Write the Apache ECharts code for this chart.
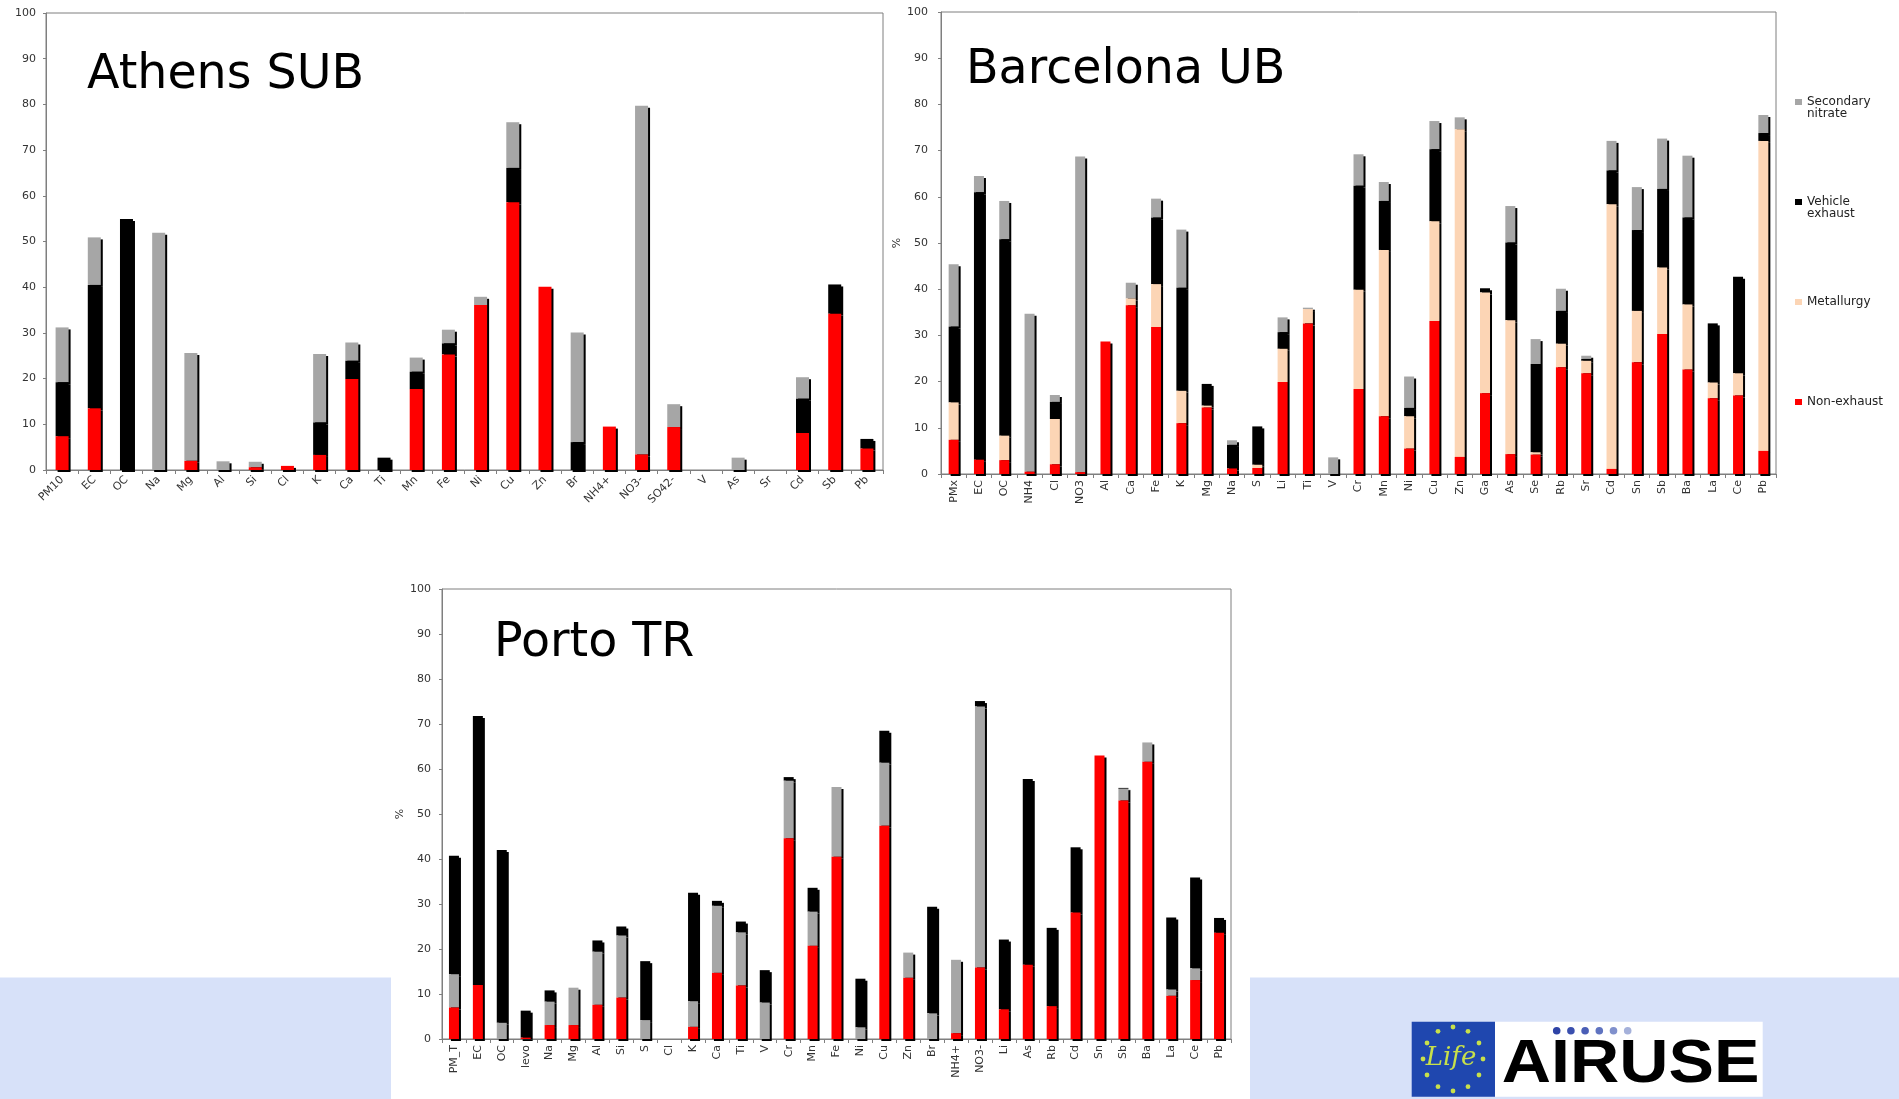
<!DOCTYPE html>
<html>
<head>
<meta charset="utf-8">
<script src="https://cdn.jsdelivr.net/npm/echarts@6/dist/echarts.min.js"></script>
<style>
html,body{margin:0;padding:0;background:#fff;}
#chart{width:1899px;height:1099px;}
</style>
</head>
<body>
<div id="chart"></div>
<script>
// ---------- DATA ----------
const athensCats = ['PM10','EC','OC','Na','Mg','Al','Si','Cl','K','Ca','Ti','Mn','Fe','Ni','Cu','Zn','Br','NH4+','NO3-','SO42-','V','As','Sr','Cd','Sb','Pb'];
const athensNonExhaust = [7.4,13.5,0,0,2.0,0,0.6,0.9,3.3,19.9,0,17.7,25.3,36.1,58.6,40.1,0,9.5,3.4,9.4,0,0,0,8.1,34.2,4.7];
const athensVehicle    = [11.8,27.0,54.9,0,0,0,0,0,7.1,4.0,2.7,3.8,2.4,0,7.5,0,6.1,0,0,0,0,0,0,7.5,6.4,2.1];
const athensSecondary  = [12.0,10.4,0,51.9,23.6,1.9,1.2,0,15.0,4.0,0,3.1,3.0,1.8,10.0,0,24.0,0,76.3,5.0,0,2.7,0,4.7,0,0];

const bcnCats = ['PMx','EC','OC','NH4','Cl','NO3','Al','Ca','Fe','K','Mg','Na','S','Li','Ti','V','Cr','Mn','Ni','Cu','Zn','Ga','As','Se','Rb','Sr','Cd','Sn','Sb','Ba','La','Ce','Pb'];
const bcnNonExhaust = [7.4,3.1,3.0,0.5,2.1,0.4,28.7,36.5,31.8,11.0,14.4,1.2,1.3,19.9,32.6,0,18.4,12.5,5.5,33.1,3.7,17.5,4.3,4.2,23.1,21.8,1.1,24.2,30.3,22.6,16.4,17.0,5.0];
const bcnMetallurgy = [8.1,0,5.3,0,9.8,0,0,1.5,9.3,7.0,0.4,0,0.7,7.2,3.1,0,21.5,36.0,7.0,21.6,70.9,21.8,29.0,0.5,5.1,2.7,57.3,11.1,14.4,14.1,3.4,4.8,67.1];
const bcnVehicle    = [16.4,57.9,42.5,0,3.7,0,0,0,14.4,22.3,4.7,5.1,8.3,3.6,0,0,22.5,10.6,1.8,15.6,0,0.9,16.8,19.1,7.1,0.4,7.3,17.5,17.0,18.8,12.8,20.9,1.7];
const bcnSecondary  = [13.5,3.5,8.3,34.2,1.5,68.3,0,3.4,4.1,12.6,0,1.0,0,3.2,0.3,3.6,6.8,4.1,6.8,6.1,2.6,0,7.9,5.4,4.8,0.7,6.4,9.3,10.9,13.4,0,0,3.9];

const portoCats = ['PM_T','EC','OC','levo','Na','Mg','Al','Si','S','Cl','K','Ca','Ti','V','Cr','Mn','Fe','Ni','Cu','Zn','Br','NH4+','NO3-','Li','As','Rb','Cd','Sn','Sb','Ba','La','Ce','Pb'];
const portoRed   = [7.0,12.0,0,0.3,3.1,3.1,7.6,9.2,0,0,2.7,14.7,11.9,0,44.6,20.7,40.5,0,47.4,13.6,0,1.3,15.9,6.6,16.5,7.3,28.1,63.0,53.0,61.6,9.6,13.1,23.6];
const portoGrey  = [7.4,0,3.6,0,5.2,8.3,11.8,13.8,4.2,0,5.7,14.9,11.8,8.1,12.8,7.6,15.5,2.6,14.0,5.6,5.7,16.3,58.0,0,0,0,0,0,2.6,4.3,1.4,2.6,0];
const portoBlack = [26.3,59.8,38.4,6.0,2.5,0,2.5,2.0,13.1,0,24.1,1.1,2.4,7.2,0.8,5.3,0,10.8,7.1,0,23.7,0,1.2,15.5,41.3,17.4,14.5,0,0.2,0,16.0,20.2,3.3];

const yTicks = [0,100,10]; // min, max, interval
const titles = ['Athens SUB','Barcelona UB','Porto TR'];
const legendNames = ['Secondary nitrate','Vehicle exhaust','Metallurgy','Non-exhaust'];
const legendLabels = ['\u00a0\nSecondary\nnitrate','\u00a0\nVehicle\nexhaust','Metallurgy','Non-exhaust'];

// ---------- STYLE ----------
const COL = {'Non-exhaust':'#FF0000','Metallurgy':'#FCD5B5','Vehicle exhaust':'#000000','Secondary nitrate':'#A6A6A6'};
const FONT = 'DejaVu Sans';
const AX = '#7f7f7f';

function mkSeries(grid, name, data, z, barWidth){
  return {
    type:'bar', name:name, xAxisIndex:grid, yAxisIndex:grid, stack:'s'+grid,
    data:data, barWidth:barWidth, z:z, silent:true,
    itemStyle:{color:COL[name], shadowColor:'#000', shadowOffsetX:2, shadowOffsetY:2, shadowBlur:0},
    emphasis:{disabled:true}
  };
}
function mkX(grid, cats, rotate, margin){
  return {type:'category', gridIndex:grid, data:cats,
    axisLine:{lineStyle:{color:AX,width:1}},
    axisTick:{show:true,length:4,lineStyle:{color:AX}},
    axisLabel:{interval:0, rotate:rotate, fontSize:11, fontFamily:FONT, color:'#333', margin:margin}};
}
function mkY(grid, margin, name, gap){
  return {type:'value', gridIndex:grid, min:yTicks[0], max:yTicks[1], interval:yTicks[2],
    name:name||'', nameLocation:'middle', nameGap:gap||40, nameTextStyle:{fontSize:11,fontFamily:FONT,color:'#333'},
    splitLine:{show:false},
    axisLine:{show:true,lineStyle:{color:AX,width:1}},
    axisTick:{show:true,length:3,lineStyle:{color:AX}},
    axisLabel:{fontSize:11,fontFamily:FONT,color:'#333',margin:margin}};
}
const gridBase = {show:true, borderColor:AX, borderWidth:1, backgroundColor:'#fff', containLabel:false};

const legendTops = [84,184,296,396];
const legends = legendNames.map((n,i)=>({
  data:[n], orient:'vertical', left:1795, top:legendTops[i], padding:0, selectedMode:false,
  icon:'rect', itemWidth:7, itemHeight:6,
  formatter: function(){ return legendLabels[i]; },
  textStyle:{fontSize:12, lineHeight:12, fontFamily:FONT, color:'#222'}
}));

// logo graphic (decoration)
const logoEls = [];
for(let i=0;i<12;i++){
  const a = i*Math.PI/6;
  logoEls.push({type:'circle', shape:{cx:1453+30*Math.cos(a), cy:1059+32*Math.sin(a), r:2.4}, style:{fill:'#C8E04A'}, z:10, silent:true});
}
const blueDots = ['#2E43A6','#3A4FAE','#4A5EB6','#5F73C0','#8090CC','#A5B1DA'];
blueDots.forEach((c,i)=>logoEls.push({type:'circle', shape:{cx:1556.7+i*14.2, cy:1030.7, r:3.8}, style:{fill:c}, z:10, silent:true}));

const option = {
  backgroundColor:'#fff',
  animation:false,
  title: [
    {text:titles[0], left:87, top:52, padding:0, textStyle:{fontSize:47.5,fontWeight:'normal',fontFamily:FONT,color:'#000'}},
    {text:titles[1], left:966, top:47, padding:0, textStyle:{fontSize:47.5,fontWeight:'normal',fontFamily:FONT,color:'#000'}},
    {text:titles[2], left:494, top:620, padding:0, textStyle:{fontSize:47.5,fontWeight:'normal',fontFamily:FONT,color:'#000'}}
  ],
  legend: legends,
  graphic: [
    {type:'rect', shape:{x:0,y:977.5,width:391,height:122}, style:{fill:'#D7E1F9'}, z:-10, silent:true},
    {type:'rect', shape:{x:1250,y:977.5,width:649,height:122}, style:{fill:'#D7E1F9'}, z:-10, silent:true},
    {type:'rect', shape:{x:1411.7,y:1021.7,width:83.3,height:75}, style:{fill:'#1F47AF'}, z:5, silent:true},
    {type:'rect', shape:{x:1495,y:1021.7,width:267.7,height:75}, style:{fill:'#ffffff'}, z:5, silent:true},
    {type:'text', x:1451, y:1058, style:{text:'Life', fill:'#C8E04A', font:'italic 26px "DejaVu Serif"', align:'center', verticalAlign:'middle'}, z:10, silent:true},
    {type:'text', x:1501.7, y:1065.2, scaleX:1.1, style:{text:'AIRUSE', fill:'#000', font:'bold 62px "Liberation Sans"', align:'left', verticalAlign:'middle'}, z:10, silent:true}
  ].concat(logoEls),
  grid: [
    Object.assign({left:46, top:13, width:837, height:457}, gridBase),
    Object.assign({left:941, top:12, width:835, height:462}, gridBase),
    Object.assign({left:442, top:589, width:789, height:450}, gridBase)
  ],
  xAxis: [ mkX(0, athensCats, 45, 8), mkX(1, bcnCats, 90, 6), mkX(2, portoCats, 90, 6) ],
  yAxis: [ mkY(0, 10), mkY(1, 13, '%', 34), mkY(2, 11, '%', 33) ],
  series: [
    mkSeries(0,'Non-exhaust',athensNonExhaust,6,13),
    mkSeries(0,'Vehicle exhaust',athensVehicle,5,13),
    mkSeries(0,'Secondary nitrate',athensSecondary,4,13),
    mkSeries(1,'Non-exhaust',bcnNonExhaust,6,10),
    mkSeries(1,'Metallurgy',bcnMetallurgy,5,10),
    mkSeries(1,'Vehicle exhaust',bcnVehicle,4,10),
    mkSeries(1,'Secondary nitrate',bcnSecondary,3,10),
    mkSeries(2,'Non-exhaust',portoRed,6,10),
    mkSeries(2,'Secondary nitrate',portoGrey,5,10),
    mkSeries(2,'Vehicle exhaust',portoBlack,4,10)
  ]
};
const chart = echarts.init(document.getElementById('chart'), null, {renderer:'canvas'});
chart.setOption(option);
</script>
</body>
</html>
